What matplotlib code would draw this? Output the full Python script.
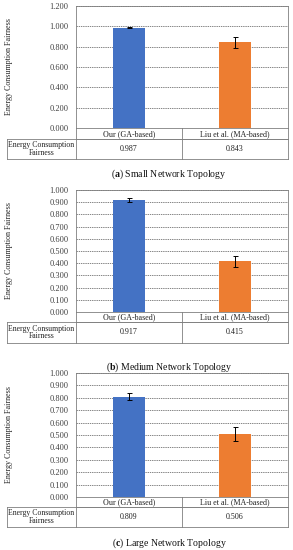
import matplotlib
matplotlib.use("Agg")
import matplotlib.pyplot as plt
from matplotlib.lines import Line2D

plt.rcParams['font.family'] = ['Liberation Serif', 'DejaVu Serif']
plt.rcParams['mathtext.fontset'] = 'custom'
plt.rcParams['mathtext.rm'] = 'Liberation Serif'
plt.rcParams['mathtext.bf'] = 'Liberation Serif:bold'

categories = ["Our (GA-based)", "Liu et al. (MA-based)"]
row_label = "Energy Consumption\nFairness"
ylabel = "Energy Consumption Fairness"

values_small = [0.987, 0.843]
errors_small = [0.004, 0.054]
values_medium = [0.917, 0.415]
errors_medium = [0.018, 0.045]
values_large = [0.809, 0.506]
errors_large = [0.030, 0.056]

captions_letter = ["a", "b", "c"]
captions_text = ["Small Network Topology", "Medium Network Topology", "Large Network Topology"]
ymax = [1.2, 1.0, 1.0]
ystep = [0.2, 0.1, 0.1]

colors = ["#4472C4", "#ED7D31"]

W, H = 293, 550
fig = plt.figure(figsize=(W / 100, H / 100), dpi=100)

def fx(px):
    return px / W

def fy(py):
    return 1 - py / H

def hline(x0, x1, y, **kw):
    fig.add_artist(Line2D([fx(x0), fx(x1)], [fy(y), fy(y)], transform=fig.transFigure,
                          color="#7f7f7f", lw=0.6, **kw))

def vline(x, y0, y1, **kw):
    fig.add_artist(Line2D([fx(x), fx(x)], [fy(y0), fy(y1)], transform=fig.transFigure,
                          color="#7f7f7f", lw=0.6, **kw))

# panel geometry in pixels: (top, bottom of axes, row1 bottom, row2 bottom, caption y)
panels = [
    (6, 128, 139, 159, 174),
    (190, 312, 322, 343, 367),
    (373, 497, 507, 527, 543),
]
data = [(values_small, errors_small), (values_medium, errors_medium), (values_large, errors_large)]

L, R, MID, TL = 76, 288, 182, 7

for i, ((top, bot, r1, r2, cap), (vals, errs)) in enumerate(zip(panels, data)):
    ax = fig.add_axes([fx(L), fy(bot), fx(R) - fx(L), (bot - top) / H])
    x = range(len(categories))
    ax.bar(x, vals, width=0.31, color=colors, zorder=3,
           yerr=errs, error_kw=dict(ecolor="black", elinewidth=0.7, capsize=1.8, capthick=0.7, zorder=4))
    ax.set_xlim(-0.5, 1.5)
    ax.set_ylim(0, ymax[i])
    n = int(round(ymax[i] / ystep[i]))
    ticks = [k * ystep[i] for k in range(n + 1)]
    ax.set_yticks(ticks)
    ax.set_yticklabels([f"{t:.3f}" for t in ticks], fontsize=6.0, color="#404040")
    ax.tick_params(axis='y', length=0, pad=5.5)
    ax.set_xticks([])
    ax.grid(axis='y', linestyle=(0, (2, 1.2)), color="#555555", lw=0.5, zorder=0)
    for s in ax.spines.values():
        s.set_color("#7f7f7f")
        s.set_linewidth(0.6)
    fig.text(fx(9), fy((top + bot) / 2), ylabel, rotation=90, ha='center', va='center',
             fontsize=5.8, color="#222222")

    # table
    hline(L, R, r1)
    hline(TL, R, r1)
    hline(TL, R, r2)
    vline(MID, bot, r2)
    vline(R, bot, r2)
    vline(L, bot, r2)
    vline(TL, r1, r2)
    centers = [(L + MID) / 2, (MID + R) / 2]
    for c, cat, v in zip(centers, categories, vals):
        fig.text(fx(c), fy((bot + r1) / 2 + 0.3), cat, ha='center', va='center', fontsize=5.8, color="#222222")
        fig.text(fx(c), fy((r1 + r2) / 2), f"{v:.3f}", ha='center', va='center', fontsize=5.8, color="#222222")
    fig.text(fx((TL + L) / 2), fy((r1 + r2) / 2), row_label, ha='center', va='center',
             fontsize=5.6, color="#222222", linespacing=0.9)

    # caption
    fig.text(fx(169), fy(cap), f"(${{\\mathbf{{{captions_letter[i]}}}}}$) " + captions_text[i],
             ha='center', va='center', fontsize=7.0, color="#111111")

fig.savefig("out.png", dpi=100)
